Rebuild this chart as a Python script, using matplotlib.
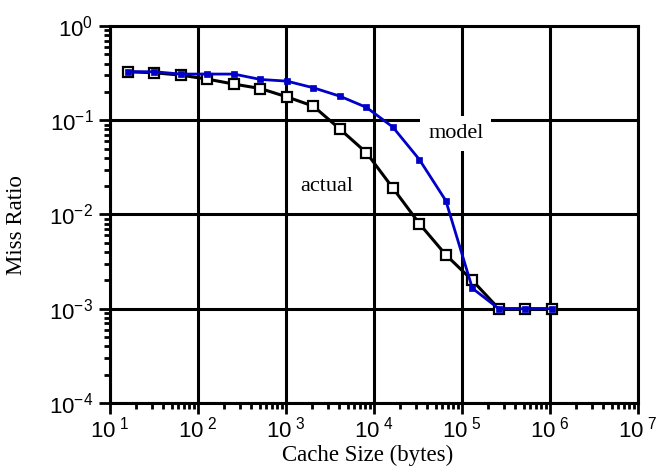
import numpy as np
import matplotlib
matplotlib.use("Agg")
import matplotlib.pyplot as plt
from matplotlib.ticker import LogLocator, FuncFormatter, NullFormatter

plt.rcParams['font.family'] = ['Liberation Sans', 'DejaVu Sans']
plt.rcParams['mathtext.fontset'] = 'custom'
plt.rcParams['mathtext.rm'] = 'Liberation Sans'
plt.rcParams['mathtext.it'] = 'Liberation Sans'
plt.rcParams['mathtext.default'] = 'rm'

# Data (cache sizes are powers of two, 16 B .. 1 MB)
cache_size = [16, 32, 64, 128, 256, 512, 1024, 2048, 4096, 8192, 16384,
              32768, 65536, 131072, 262144, 524288, 1048576]
actual = [0.327, 0.319, 0.301, 0.273, 0.242, 0.217, 0.177, 0.141, 0.0806,
          0.0453, 0.0191, 0.0080, 0.00373, 0.0020, 0.001, 0.001, 0.001]
model = [0.327, 0.327, 0.309, 0.309, 0.309, 0.271, 0.260, 0.221, 0.180,
         0.137, 0.0846, 0.0383, 0.0140, 0.00165, 0.001, 0.001, 0.001]
series_labels = ["actual", "model"]

fig = plt.figure(figsize=(6.6, 4.73), dpi=100)
ax = fig.add_axes([110/660, 1-403/473, 528/660, 377/473])
ax.set_xscale('log')
ax.set_yscale('log')
ax.set_xlim(1e1, 1e7)
ax.set_ylim(1e-4, 1e0)

ax.grid(True, which='major', color='black', lw=2.2, zorder=1)
ax.set_axisbelow(True)
for s in ax.spines.values():
    s.set_linewidth(2.2)

ax.plot(cache_size, actual, color='black', lw=2.2, marker='s', ms=7.5,
        mfc='white', mec='black', mew=1.6, zorder=3, clip_on=False)
ax.plot(cache_size, model, color='#0000C8', lw=2.0, marker='s', ms=5,
        mfc='#0000C8', mec='#0000C8', mew=0.5, zorder=4, clip_on=False)

ax.xaxis.set_major_locator(LogLocator(base=10, numticks=20))
ax.xaxis.set_minor_locator(LogLocator(base=10, subs=np.arange(2, 10), numticks=20))
ax.yaxis.set_major_locator(LogLocator(base=10, numticks=20))
ax.yaxis.set_minor_locator(LogLocator(base=10, subs=np.arange(2, 10), numticks=20))
ax.xaxis.set_minor_formatter(NullFormatter())
ax.yaxis.set_minor_formatter(NullFormatter())

def xfmt(v, pos):
    e = int(round(np.log10(v)))
    return r'$10^{\,\,%d}$' % e

def yfmt(v, pos):
    e = int(round(np.log10(v)))
    return r'$10^{%d}$' % e

ax.xaxis.set_major_formatter(FuncFormatter(xfmt))
ax.yaxis.set_major_formatter(FuncFormatter(yfmt))
ax.tick_params(which='major', direction='out', length=8, width=2.0,
               labelsize=16, pad=2)
ax.tick_params(which='minor', direction='out', length=4.3, width=2.0)
ax.tick_params(axis='y', which='major', pad=4)

ax.set_xlabel('Cache Size (bytes)', family='Liberation Serif', fontsize=16.5)
ax.set_ylabel('Miss Ratio', family='Liberation Serif', fontsize=16.5)
ax.xaxis.set_label_coords(0.487, -0.112)
ax.yaxis.set_label_coords(-0.157, 0.472)

ax.text(8.5e4, 0.072, series_labels[1], family='Liberation Serif', fontsize=16,
        ha='center', va='center', zorder=5,
        bbox=dict(boxstyle='square,pad=0.35', fc='white', ec='none'))
ax.text(2925, 0.020, series_labels[0], family='Liberation Serif', fontsize=16,
        ha='center', va='center', zorder=5,
        bbox=dict(boxstyle='square,pad=0.2', fc='white', ec='none'))

fig.savefig('out.png', dpi=100)
